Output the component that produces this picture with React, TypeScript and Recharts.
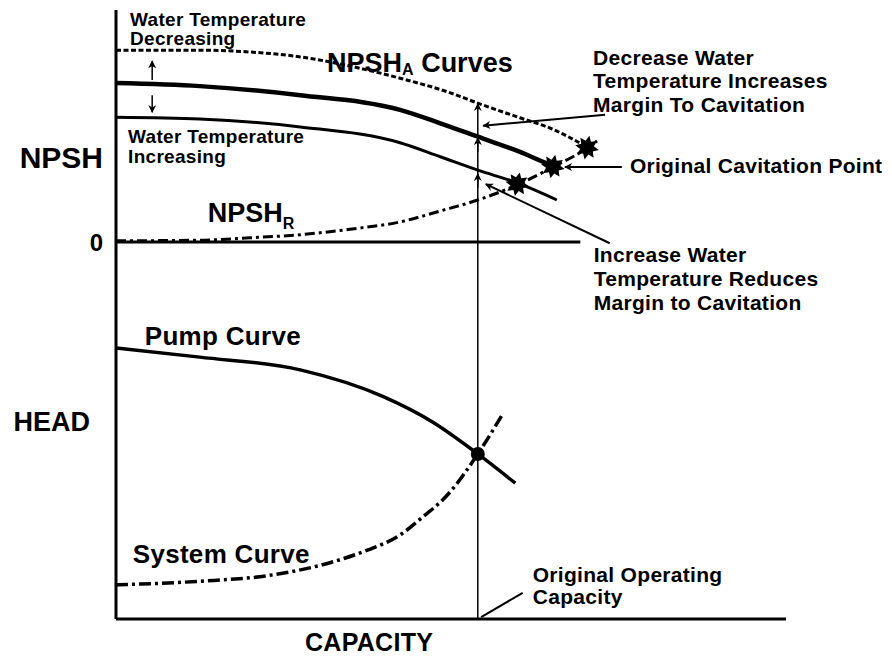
import {
  ComposedChart,
  Line,
  Scatter,
  XAxis,
  YAxis,
  ReferenceLine,
  ReferenceDot,
} from "recharts";

const FONT = "'Liberation Sans', Arial, Helvetica, sans-serif";

// capacity runs 0..100 along the bottom axis, level 0..100 up the left axis
// NPSH available, water temperature decreasing (dotted)
const coolCapacity = [0, 12.5, 20.0, 27.5, 34.9, 42.4, 49.9, 54.0, 60.3, 64.8, 70.3];
const coolLevel = [93.4, 93.4, 93.1, 92.3, 90.8, 88.8, 86.4, 84.7, 82.3, 80.6, 77.5];

// NPSH available, original
const origCapacity = [0, 12.5, 27.5, 42.4, 48.4, 54.0, 60.3, 65.2, 66.3];
const origLevel = [88.0, 87.5, 86.0, 83.6, 81.4, 79.2, 76.7, 74.5, 74.2];

// NPSH available, water temperature increasing
const hotCapacity = [0, 12.5, 27.5, 42.4, 48.4, 54.0, 59.9, 65.8];
const hotLevel = [82.4, 82.1, 80.8, 78.2, 75.9, 73.7, 71.6, 68.8];

// NPSH required
const reqCapacity = [0, 12.5, 20.0, 27.5, 34.9, 42.4, 48.4, 54.0, 59.9, 65.2, 70.3, 71.8];
const reqLevel = [62.1, 62.2, 62.6, 63.1, 64.0, 65.2, 67.0, 68.8, 71.3, 74.2, 77.3, 78.5];

// pump curve and system curve
const pumpCapacity = [0, 12.5, 27.5, 39.9, 47.3, 54.0, 59.6];
const pumpHead = [44.5, 43.0, 40.9, 36.5, 32.3, 27.1, 22.3];
const systemCapacity = [0, 12.5, 22.5, 32.4, 37.5, 42.4, 45.4, 49.9, 54.0, 57.8];
const systemHead = [5.6, 6.2, 7.1, 9.4, 11.3, 13.8, 16.4, 20.9, 27.1, 33.8];

// cavitation points (hot, original, cool) and the operating point
const cavCapacity = [59.9, 65.2, 70.3];
const cavLevel = [71.4, 74.3, 77.4];
const opCapacity = [54.0];
const opHead = [27.1];

const zeroLevel = 61.9;
const zeroEnd = 69.3;
const operatingCapacity = 54.0;

const levelTicks = [32.5, 61.9, 75.8];
const levelTickLabels = ["HEAD", "0", "NPSH"];

const pts = (xs: number[], ys: number[]) => xs.map((x, i) => ({ x, y: ys[i] }));

function LevelTick({ x, y, payload }: any) {
  const label = levelTickLabels[levelTicks.indexOf(payload.value)];
  const size = label === "0" ? 24 : label === "NPSH" ? 30 : 27;
  const shift = label === "HEAD" ? -13 : 0;
  return (
    <text x={x + shift} y={y} dy="0.36em" textAnchor="end" fontFamily={FONT} fontWeight="bold" fontSize={size} fill="#000">
      {label}
    </text>
  );
}

// ragged blob like the scanned cavitation marks
const Star = ({ cx, cy }: any) => {
  const p: string[] = [];
  for (let i = 0; i < 16; i++) {
    const a = (Math.PI / 8) * i + 0.2;
    const r = i % 2 === 0 ? 12 : 7;
    p.push(`${cx + r * Math.cos(a)},${cy + r * Math.sin(a)}`);
  }
  return <polygon points={p.join(" ")} fill="#000" />;
};

const Dot = ({ cx, cy }: any) => <circle cx={cx} cy={cy} r={7} fill="#000" />;

function note(key: string, x: number, y: number, lines: string[], size: number, gap: number) {
  return (
    <ReferenceDot
      key={key}
      x={x}
      y={y}
      r={0}
      ifOverflow="visible"
      shape={(p: any) => (
        <text x={p.cx} y={p.cy} fontFamily={FONT} fontWeight="bold" fontSize={size} fill="#000" letterSpacing={0.3}>
          {lines.map((l, i) => (
            <tspan key={i} x={p.cx} dy={i === 0 ? 0 : gap}>
              {l}
            </tspan>
          ))}
        </text>
      )}
    />
  );
}

function subNote(key: string, x: number, y: number, main: string, sub: string, rest: string, subDy: number) {
  return (
    <ReferenceDot
      key={key}
      x={x}
      y={y}
      r={0}
      ifOverflow="visible"
      shape={(p: any) => (
        <text x={p.cx} y={p.cy} fontFamily={FONT} fontWeight="bold" fontSize={27} fill="#000">
          {main}
          <tspan fontSize={16} dy={subDy}>{sub}</tspan>
          <tspan dy={-subDy}>{rest}</tspan>
        </text>
      )}
    />
  );
}

function arrow(key: string, x1: number, y1: number, x2: number, y2: number, width: number, head: boolean) {
  return (
    <ReferenceLine
      key={key}
      segment={[{ x: x1, y: y1 }, { x: x2, y: y2 }]}
      ifOverflow="visible"
      shape={(p: any) => (
        <line
          x1={p.x1}
          y1={p.y1}
          x2={p.x2}
          y2={p.y2}
          stroke="#000"
          strokeWidth={width}
          markerEnd={head ? "url(#arrowHead)" : undefined}
        />
      )}
    />
  );
}

export default function App() {
  return (
    <div style={{ position: "absolute", left: 0, top: 0, background: "#fff" }}>
      <svg width={0} height={0} style={{ position: "absolute" }}>
        <defs>
          <marker
            id="arrowHead"
            viewBox="0 0 10 10"
            refX={9}
            refY={5}
            markerWidth={11}
            markerHeight={8}
            markerUnits="userSpaceOnUse"
            orient="auto"
          >
            <path d="M0,0 L10,5 L0,10 L3,5 z" fill="#000" />
          </marker>
        </defs>
      </svg>
      <ComposedChart width={892} height={659} margin={{ top: 10, right: 106, bottom: 0, left: 0 }}>
        <XAxis
          type="number"
          dataKey="x"
          domain={[0, 100]}
          allowDataOverflow
          tick={false}
          tickLine={false}
          height={40}
          axisLine={{ stroke: "#000", strokeWidth: 3 }}
        />
        <YAxis
          type="number"
          dataKey="y"
          domain={[0, 100]}
          allowDataOverflow
          ticks={levelTicks}
          interval={0}
          tick={<LevelTick />}
          tickLine={false}
          tickSize={0}
          tickMargin={13}
          width={116}
          axisLine={{ stroke: "#000", strokeWidth: 3 }}
        />

        <ReferenceLine
          segment={[{ x: 0, y: zeroLevel }, { x: zeroEnd, y: zeroLevel }]}
          stroke="#000"
          strokeWidth={3}
          ifOverflow="visible"
        />

        {arrow("cap", operatingCapacity, 0, operatingCapacity, 84.6, 1.5, true)}
        {arrow("capMid", operatingCapacity, 76.7, operatingCapacity, 79.0, 1.5, true)}
        {arrow("capLow", operatingCapacity, 70.8, operatingCapacity, 73.1, 1.5, true)}
        {arrow("up", 5.4, 88.5, 5.4, 91.6, 1.5, true)}
        {arrow("down", 5.4, 86.0, 5.4, 83.2, 1.5, true)}
        {arrow("decLead", 73.0, 82.8, 54.8, 81.0, 2, true)}
        {arrow("origLead", 75.5, 74.2, 67.0, 74.2, 2, true)}
        {arrow("incLead", 73.7, 61.7, 55.2, 71.4, 2, true)}
        {arrow("opLead", 60.7, 4.3, 54.5, 0.3, 2, false)}

        <Line data={pts(coolCapacity, coolLevel)} dataKey="y" type="monotone" stroke="#000" strokeWidth={3} strokeDasharray="5 2.5" dot={false} activeDot={false} isAnimationActive={false} />
        <Line data={pts(origCapacity, origLevel)} dataKey="y" type="monotone" stroke="#000" strokeWidth={4.5} dot={false} activeDot={false} isAnimationActive={false} />
        <Line data={pts(hotCapacity, hotLevel)} dataKey="y" type="monotone" stroke="#000" strokeWidth={3} dot={false} activeDot={false} isAnimationActive={false} />
        <Line data={pts(reqCapacity, reqLevel)} dataKey="y" type="monotone" stroke="#000" strokeWidth={3} strokeDasharray="10 4 3 4" dot={false} activeDot={false} isAnimationActive={false} />
        <Line data={pts(pumpCapacity, pumpHead)} dataKey="y" type="monotone" stroke="#000" strokeWidth={3.5} dot={false} activeDot={false} isAnimationActive={false} />
        <Line data={pts(systemCapacity, systemHead)} dataKey="y" type="monotone" stroke="#000" strokeWidth={3.5} strokeDasharray="12 4 3 4" dot={false} activeDot={false} isAnimationActive={false} />

        <Scatter data={pts(cavCapacity, cavLevel)} dataKey="y" shape={<Star />} isAnimationActive={false} />
        <Scatter data={pts(opCapacity, opHead)} dataKey="y" shape={<Dot />} isAnimationActive={false} />

        {note("cool", 2.1, 97.4, ["Water Temperature", "Decreasing"], 19, 19)}
        {note("hot", 1.8, 78.2, ["Water Temperature", "Increasing"], 19, 20)}
        {subNote("npshA", 31.5, 89.8, "NPSH", "A", " Curves", 3)}
        {subNote("npshR", 13.7, 65.2, "NPSH", "R", "", 7)}
        {note("dec", 71.2, 91.0, ["Decrease Water", "Temperature Increases", "Margin To Cavitation"], 21, 23.5)}
        {note("orig", 76.7, 73.2, ["Original Cavitation Point"], 21, 0)}
        {note("inc", 71.3, 58.6, ["Increase Water", "Temperature Reduces", "Margin to Cavitation"], 21, 24)}
        {note("pump", 4.3, 45.0, ["Pump Curve"], 26, 0)}
        {note("system", 2.5, 9.2, ["System Curve"], 26, 0)}
        {note("opcap", 62.2, 6.1, ["Original Operating", "Capacity"], 21, 22.5)}
        {note("capacity", 28.2, -5.2, ["CAPACITY"], 25, 0)}
      </ComposedChart>
    </div>
  );
}
